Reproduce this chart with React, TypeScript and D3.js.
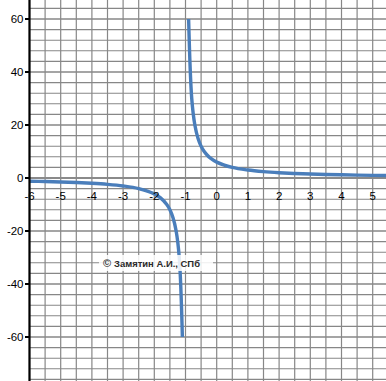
import React from "react";
import * as d3 from "d3";

// Hyperbola y = 6 / (x + 1), two branches either side of x = -1
const leftX = [-6, -5.5, -5, -4.5, -4, -3.5, -3, -2.5, -2, -1.8, -1.6, -1.5, -1.4, -1.3, -1.2, -1.1];
const leftY = [-1.2, -1.33, -1.5, -1.71, -2, -2.4, -3, -4, -6, -7.5, -10, -12, -15, -20, -30, -60];
const rightX = [-0.9, -0.8, -0.7, -0.6, -0.5, -0.4, -0.3, -0.2, 0, 0.5, 1, 1.5, 2, 2.5, 3, 3.5, 4, 4.5, 5, 5.5, 6];
const rightY = [60, 30, 20, 15, 12, 10, 8.57, 7.5, 6, 4, 3, 2.4, 2, 1.71, 1.5, 1.33, 1.2, 1.09, 1, 0.92, 0.86];

const xTicks = [-6, -5, -4, -3, -2, -1, 0, 1, 2, 3, 4, 5];
const yTicks = [60, 40, 20, 0, -20, -40, -60];
const creditMark = "©";
const credit = "Замятин А.И., СПб";

const W = 386;
const H = 381;
const LEFT = 29.5;

export default function App() {
  const x = d3.scaleLinear().domain([-6, 5]).range([LEFT, 372.7]);
  const y = d3.scaleLinear().domain([60, -60]).range([19, 337]);

  const xMin = -6;
  const xMax = x.invert(W);
  const yMax = y.invert(0);

  const vGrid = d3.range(xMin, xMax + 0.001, 0.5);
  const hGrid = d3.range(-76, yMax, 4);

  const line = d3
    .line<[number, number]>()
    .x((d) => x(d[0]))
    .y((d) => y(d[1]))
    .curve(d3.curveCatmullRom.alpha(0.5));

  const left = leftX.map((v, i) => [v, leftY[i]] as [number, number]);
  const right = rightX.map((v, i) => [v, rightY[i]] as [number, number]);

  const font = "'Liberation Sans', Arial, sans-serif";
  const gridColor = "#878787";

  return (
    <svg
      width={W}
      height={H}
      style={{ position: "absolute", left: 0, top: 0, background: "#fff" }}
    >
      <defs>
        <clipPath id="plot">
          <rect x={LEFT} y={0} width={W - LEFT} height={H} />
        </clipPath>
      </defs>
      <rect x={0} y={0} width={W} height={H} fill="#fff" />
      <g>
        {vGrid.map((v) => (
          <line
            key={"v" + v}
            x1={x(v)}
            x2={x(v)}
            y1={0}
            y2={H}
            stroke={gridColor}
            strokeWidth={1.2}
          />
        ))}
        {hGrid.map((v) => (
          <line
            key={"h" + v}
            x1={LEFT}
            x2={W}
            y1={y(v)}
            y2={y(v)}
            stroke={gridColor}
            strokeWidth={v % 20 === 0 ? 1.6 : 1.1}
          />
        ))}
        <line x1={LEFT} x2={W} y1={y(0)} y2={y(0)} stroke="#8a8a8a" strokeWidth={2.2} />
      </g>
      <g clipPath="url(#plot)">
        <path d={line(left) || ""} fill="none" stroke="#4a7ebb" strokeWidth={3.4} />
        <path d={line(right) || ""} fill="none" stroke="#4a7ebb" strokeWidth={3.4} />
      </g>
      <line x1={LEFT} x2={LEFT} y1={0} y2={H} stroke="#000" strokeWidth={2.2} />
      {yTicks.map((v) => (
        <g key={"yt" + v}>
          <line x1={LEFT - 4.5} x2={LEFT} y1={y(v)} y2={y(v)} stroke="#000" strokeWidth={2} />
          <text
            x={LEFT - 6}
            y={y(v)}
            textAnchor="end"
            dominantBaseline="central"
            fontFamily={font}
            fontSize={11.5}
            fill="#000"
          >
            {v}
          </text>
        </g>
      ))}
      {xTicks.map((v) => (
        <text
          key={"xt" + v}
          x={x(v)}
          y={y(0) + 22}
          textAnchor="middle"
          fontFamily={font}
          fontSize={11.5}
          fill="#000"
        >
          {v}
        </text>
      ))}
      <g>
        <rect x={99} y={255} width={114} height={16} fill="#fff" fillOpacity={0.85} />
        <text
          x={107}
          y={267}
          textAnchor="middle"
          fontFamily={font}
          fontSize={11}
          fontWeight="bold"
          fill="#3a3a3a"
        >
          {creditMark}
        </text>
        <text
          x={114}
          y={266.5}
          fontFamily={font}
          fontSize={9.2}
          fontWeight={600}
          fill="#2a2a2a"
          textLength={86}
          lengthAdjust="spacingAndGlyphs"
        >
          {credit}
        </text>
      </g>
    </svg>
  );
}
